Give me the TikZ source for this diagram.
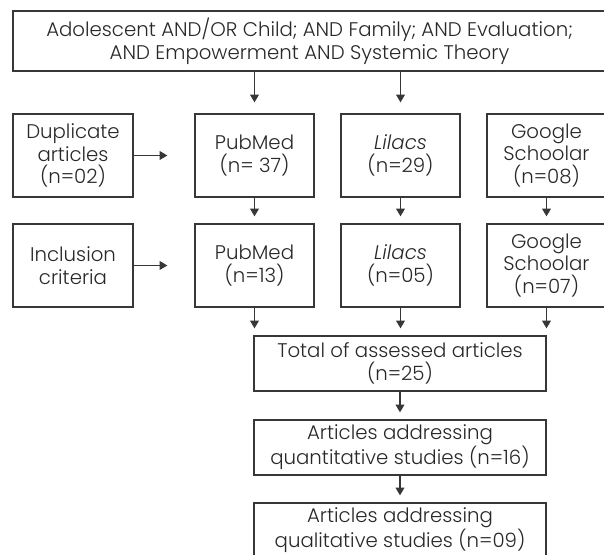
\documentclass[tikz,border=0pt]{standalone}
\usepackage{fontspec}
\setmainfont{Poppins}[UprightFont={* Light},ItalicFont={* Light Italic}]
\usepackage{tikz}
\usetikzlibrary{positioning}
\usetikzlibrary{arrows.meta}
\definecolor{linegray}{RGB}{55,55,55}
\definecolor{textgray}{RGB}{40,40,40}

\begin{document}
\begin{tikzpicture}[x=0.75pt,y=-0.75pt]
	\useasboundingbox (0,0) rectangle (604,555);

	\begin{scope}[every node/.style={draw=linegray,line width=1pt,align=center,inner sep=0pt,
	              text=textgray,font=\fontsize{14.8}{17}\selectfont,
	              minimum width=89.25pt,minimum height=62.25pt}]
	    \node[minimum width=444.75pt,minimum height=45pt] (query) at (309.5,41)
	        {Adolescent AND/OR Child; AND Family; AND Evaluation;\\AND Empowerment AND Systemic Theory};
	    \node[minimum width=90pt] (dup) at (73,155.5) {Duplicate\\articles\\(n=02)};
	    \node (pub1) at (254.5,155.5) {PubMed\\(n= 37)};
	    \node (lil1) at (400.5,155.5) {\textit{Lilacs}\\(n=29)};
	    \node (goo1) at (546.5,155.5) {Google\\Schoolar\\(n=08)};
	    \node[minimum width=90pt] (incl) at (73,265.5) {Inclusion\\criteria};
	    \node (pub2) at (254.5,265.5) {PubMed\\(n=13)};
	    \node (lil2) at (400.5,265.5) {\textit{Lilacs}\\(n=05)};
	    \node (goo2) at (546.5,265.5) {Google\\Schoolar\\(n=07)};
	    \node[minimum width=219pt,minimum height=41.25pt] (total) at (400,363.5)
	        {Total of assessed articles\\(n=25)};
	    \node[minimum width=219pt,minimum height=41.25pt] (quant) at (400,447.5)
	        {Articles addressing\\quantitative studies (n=16)};
	    \node[minimum width=219pt,minimum height=41.25pt] (qual) at (400,530.5)
	        {Articles addressing\\qualitative studies (n=09)};
	\end{scope}

	\begin{scope}[>={Triangle[length=5.8pt,width=6.6pt]},
	              every edge/.style={draw=linegray,line width=1pt,shorten >=5.25pt}]
	    \path [->] (query.south -| pub1) edge [shorten >=8.25pt] (pub1);
	    \path [->] (query.south -| lil1) edge [shorten >=8.25pt] (lil1);
	    \path [->] (dup) edge [shorten >=20.25pt] (pub1);
	    \path [->] (incl) edge [shorten >=20.25pt] (pub2);
	    \path [->] (pub1) edge (pub2);
	    \path [->] (lil1) edge (lil2);
	    \path [->] (goo1) edge (goo2);
	    \path [->] (pub2.south) edge (pub2.south |- total.north);
	    \path [->] (lil2.south) edge (lil2.south |- total.north);
	    \path [->] (goo2.south) edge (goo2.south |- total.north);
	    \path [->] (total) edge (quant);
	    \path [->] (quant) edge (qual);
	\end{scope}
\end{tikzpicture}
\end{document}
